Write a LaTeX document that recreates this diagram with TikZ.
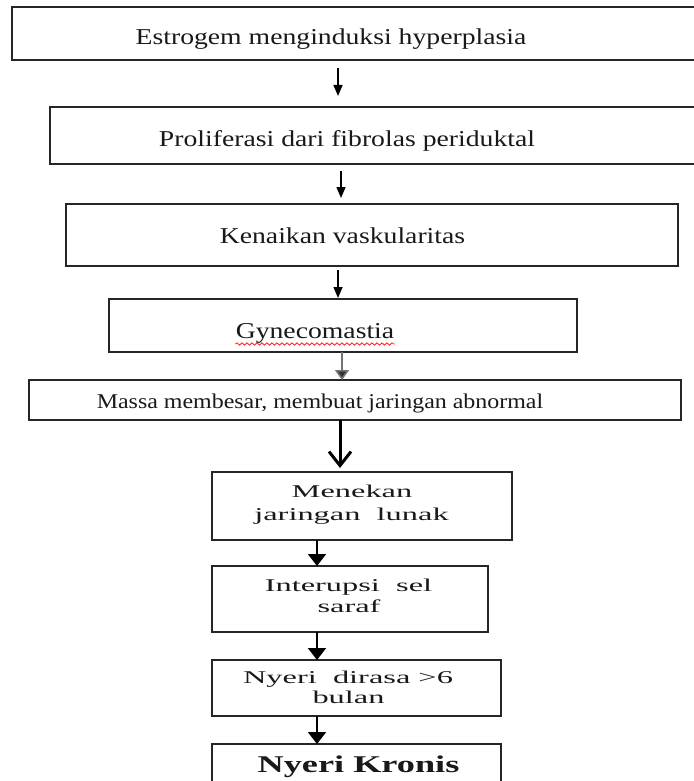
\documentclass[tikz,border=0pt]{standalone}
\usepackage{fontspec}
\usepackage{graphicx}
\setmainfont{Liberation Serif}
\usetikzlibrary{arrows.meta,decorations.pathmorphing}
\newcommand{\sxA}[1]{\scalebox{1.22}[1]{#1}}
\newcommand{\sxB}[1]{\scalebox{1.14}[1]{#1}}
\newcommand{\sxC}[1]{\scalebox{1.8}[1]{#1}}
\newcommand{\sxD}[1]{\scalebox{1.51}[1]{#1}}
\begin{document}
\begin{tikzpicture}[x=0.5pt,y=-0.5pt,
  box/.style={draw=black!85, line width=1pt, inner sep=0pt, outer sep=0pt},
  ta/.style={anchor=base, inner sep=0pt, text=black!90, font=\fontsize{11.35pt}{13pt}\selectfont},
  tb/.style={anchor=base, inner sep=0pt, text=black!90, font=\fontsize{10.5pt}{12pt}\selectfont},
  tc/.style={anchor=base, inner sep=0pt, text=black!90, font=\fontsize{9pt}{11pt}\selectfont},
  td/.style={anchor=base, inner sep=0pt, text=black!90, font=\bfseries\fontsize{12pt}{14pt}\selectfont},
  thinarr/.style={line width=0.75pt, -{Triangle[width=4.5pt,length=5.5pt]}},
  grayarr/.style={draw=black!55, line width=0.8pt, -{Triangle[width=7pt,length=5pt,fill=black!80]}},
  bigarr/.style={line width=1.5pt, -{Straight Barb[length=7pt,width=11pt]}},
  botarr/.style={line width=1pt, -{Triangle[width=9pt,length=6pt]}}
]
\useasboundingbox (0,0) rectangle (694,781);
\fill[white] (0,0) rectangle (694,781);
\begin{scope}
\clip (0,0) rectangle (694,781);
% boxes
\node[box, minimum width=349pt, minimum height=26.5pt] (b1) at (361,33.5) {};
\node[box, minimum width=330pt, minimum height=28.5pt] (b2) at (380,135.5) {};
\node[box, minimum width=306pt, minimum height=31pt] (b3) at (372,235) {};
\node[box, minimum width=234pt, minimum height=26.5pt] (b4) at (343,325.5) {};
\node[box, minimum width=326pt, minimum height=20pt] (b5) at (355,400) {};
\node[box, minimum width=150pt, minimum height=34pt] (b6) at (362,506) {};
\node[box, minimum width=138pt, minimum height=33pt] (b7) at (350,599) {};
\node[box, minimum width=144.5pt, minimum height=28pt] (b8) at (356.5,688) {};
\node[box, minimum width=144.5pt, minimum height=28pt] (b9) at (356.5,772) {};
% texts
\node[ta] (t1) at (331,45) {\sxA{Estrogem menginduksi hyperplasia}};
\node[ta] (t2) at (347,147) {\sxA{Proliferasi dari fibrolas periduktal}};
\node[ta] (t3) at (342.5,243) {\sxA{Kenaikan vaskularitas}};
\node[ta] (t4) at (315,338) {\sxA{Gynecomastia}};
\draw[red!85, line width=0.4pt, decorate, decoration={snake, amplitude=0.6pt, segment length=2.5pt}] ([yshift=-3pt]t4.base west) -- ([yshift=-3pt]t4.base east);
\node[tb] (t5) at (320,408) {\sxB{Massa membesar, membuat jaringan abnormal}};
\node[tc] (t6a) at (352,497) {\sxC{Menekan}};
\node[tc] (t6b) at (351.5,520) {\sxC{jaringan~~lunak}};
\node[tc] (t7a) at (348.5,591) {\sxC{Interupsi~~sel}};
\node[tc] (t7b) at (349,612) {\sxC{saraf}};
\node[tc] (t8a) at (348,683) {\sxC{Nyeri~~dirasa >6}};
\node[tc] (t8b) at (348.5,703) {\sxC{bulan}};
\node[td] (t9) at (358.5,772) {\sxD{Nyeri Kronis}};
% arrows
\coordinate (a1s) at (338,68); \coordinate (a1e) at (338,96);
\coordinate (a2s) at (341,171); \coordinate (a2e) at (341,198);
\coordinate (a3s) at (338,270); \coordinate (a3e) at (338,298);
\draw[thinarr] (a1s) -- (a1e);
\draw[thinarr] (a2s) -- (a2e);
\draw[thinarr] (a3s) -- (a3e);
\coordinate (x4) at (342,0);
\coordinate (x5) at (340,0);
\coordinate (x6) at (317,0);
\draw[grayarr] (b4.south -| x4) -- (b5.north -| x4);
\draw[bigarr, shorten >=2pt] (b5.south -| x5) -- (b6.north -| x5);
\draw[botarr] (b6.south -| x6) -- (b7.north -| x6);
\draw[botarr] (b7.south -| x6) -- (b8.north -| x6);
\draw[botarr] (b8.south -| x6) -- (b9.north -| x6);
\end{scope}
\end{tikzpicture}
\end{document}
